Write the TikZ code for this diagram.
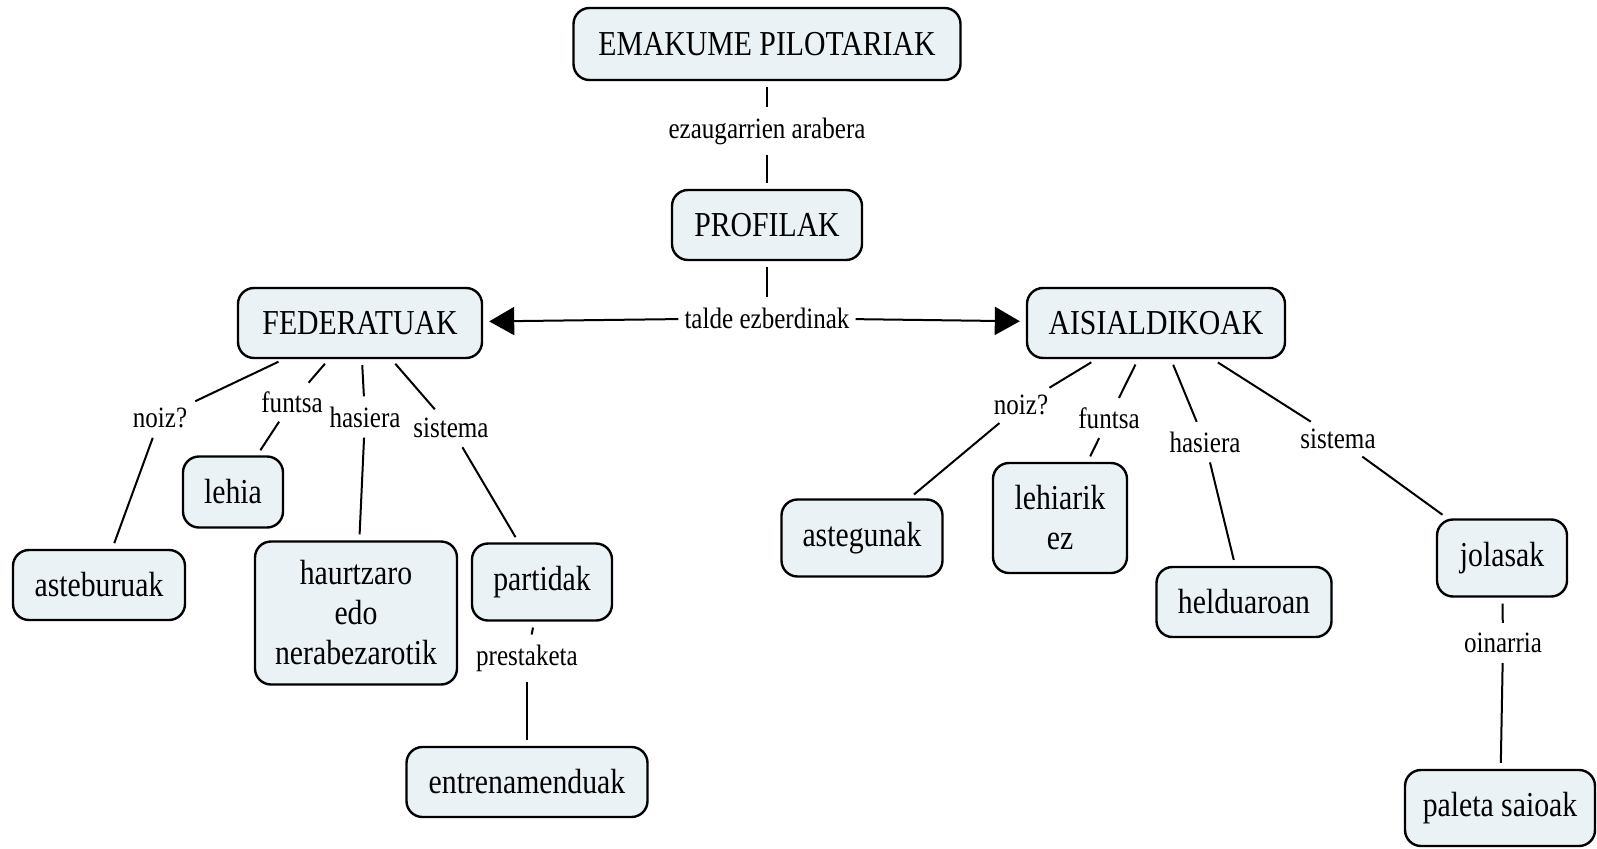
\documentclass[tikz,border=0pt]{standalone}
\usepackage{fontspec}
\setmainfont[FakeStretch=0.85]{Liberation Serif}
\usetikzlibrary{arrows.meta}
\definecolor{boxfill}{RGB}{234,242,246}
\begin{document}
\begin{tikzpicture}[x=1pt,y=-1pt,
  concept/.style={draw=black, line width=2.4pt, fill=boxfill, rounded corners=16pt,
    inner sep=0pt, align=center, font=\fontsize{35}{40}\selectfont},
  lbl/.style={inner sep=4pt, font=\fontsize{29.5}{32}\selectfont},
  link/.style={line width=2pt, shorten <=6pt, shorten >=6pt},
  arr/.style={line width=2pt, -{Triangle[length=25pt,width=28pt]}, shorten <=2pt, shorten >=6pt},
]
\useasboundingbox (0,0) rectangle (1597,848);

% concepts
\node[concept, minimum width=387pt, minimum height=72pt] (emak) at (767,44) {EMAKUME PILOTARIAK};
\node[concept, minimum width=190pt, minimum height=70pt] (prof) at (767,225) {PROFILAK};
\node[concept, minimum width=244pt, minimum height=70pt] (fed) at (360,323) {FEDERATUAK};
\node[concept, minimum width=258pt, minimum height=70pt] (ais) at (1156,323) {AISIALDIKOAK};
\node[concept, minimum width=172pt, minimum height=70pt] (asteb) at (99,585) {asteburuak};
\node[concept, minimum width=100pt, minimum height=71pt] (lehia) at (233,492) {lehia};
\node[concept, minimum width=202pt, minimum height=143pt] (haurtz) at (356,613) {haurtzaro\\edo\\nerabezarotik};
\node[concept, minimum width=140pt, minimum height=77pt] (partidak) at (542,582) {partidak};
\node[concept, minimum width=241pt, minimum height=70pt] (entren) at (527,782) {entrenamenduak};
\node[concept, minimum width=161pt, minimum height=77pt] (asteg) at (862,538) {astegunak};
\node[concept, minimum width=134pt, minimum height=110pt] (lehiarik) at (1060,518) {lehiarik\\ez};
\node[concept, minimum width=175pt, minimum height=70pt] (heldu) at (1244,602) {helduaroan};
\node[concept, minimum width=130pt, minimum height=77pt] (jolasak) at (1502,558) {jolasak};
\node[concept, minimum width=190pt, minimum height=76pt] (paleta) at (1500,808) {paleta saioak};

% link labels
\node[lbl] (ezaug) at (767,131) {ezaugarrien arabera};
\node[lbl] (talde) at (767,318) {talde ezberdinak};
\node[lbl] (noiz1) at (160,418) {noiz?};
\node[lbl] (funtsa1) at (292,402) {funtsa};
\node[lbl] (hasiera1) at (365,417) {hasiera};
\node[lbl] (sistema1) at (451,428) {sistema};
\node[lbl] (prestaketa) at (527,658) {prestaketa};
\node[lbl] (noiz2) at (1021,405) {noiz?};
\node[lbl] (funtsa2) at (1109,418) {funtsa};
\node[lbl] (hasiera2) at (1205,442) {hasiera};
\node[lbl] (sistema2) at (1338,439) {sistema};
\node[lbl] (oinarria) at (1503,643) {oinarria};

% connectors
\draw[link] (emak) -- (ezaug);
\draw[link] (ezaug) -- (prof);
\draw[link] (prof) -- (talde);
\draw[arr] (talde) -- (fed);
\draw[arr] (talde) -- (ais);

\draw[link] (fed) -- (noiz1);
\draw[link] (noiz1) -- (asteb);
\draw[link] (fed) -- (funtsa1);
\draw[link] (funtsa1) -- (lehia);
\draw[link] (fed) -- (hasiera1);
\draw[link] (hasiera1) -- (haurtz);
\draw[link] (fed) -- (sistema1);
\draw[link] (sistema1) -- (partidak);
\draw[link] (partidak) -- (prestaketa);
\draw[link] (prestaketa) -- (entren);

\draw[link] (ais) -- (noiz2);
\draw[link] (noiz2) -- (asteg);
\draw[link] (ais) -- (funtsa2);
\draw[link] (funtsa2) -- (lehiarik);
\draw[link] (ais) -- (hasiera2);
\draw[link] (hasiera2) -- (heldu);
\draw[link] (ais) -- (sistema2);
\draw[link] (sistema2) -- (jolasak);
\draw[link] (jolasak) -- (oinarria);
\draw[link] (oinarria) -- (paleta);
\end{tikzpicture}
\end{document}
